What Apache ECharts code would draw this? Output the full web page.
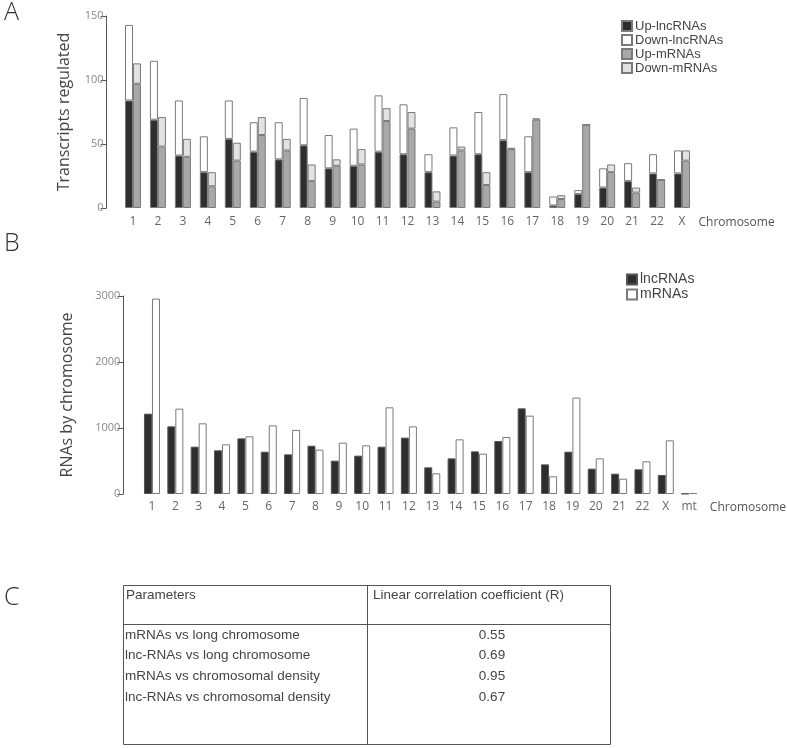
<!DOCTYPE html>
<html><head><meta charset="utf-8">
<script src="https://cdn.jsdelivr.net/npm/echarts@6/dist/echarts.min.js"></script>
<style>html,body{margin:0;padding:0;background:#fff}#c{width:787px;height:748px}</style>
</head><body><div id="c"></div>
<script>
// Panel A data
const chromA = ['1','2','3','4','5','6','7','8','9','10','11','12','13','14','15','16','17','18','19','20','21','22','X'];
const upLnc   = [84,69,41,28,54,44,38,49,31,33,44,42,28,41,42,53,28,2,11,16,21,27,27];
const downLnc = [59,46,43,28,30,23,29,37,26,29,44,39,14,22,33,36,28,7,3,15,14,15,18];
const upM     = [97,48,40,17,37,57,45,21,33,34,68,62,5,45,18,46,69,7,65,28,12,22,37];
const downM   = [16,23,14,11,14,14,9,13,5,12,10,13,8,3,10,1,1,3,0,6,4,0,8];
const ticksA = [0,50,100,150];
// Panel B data
const chromB = ['1','2','3','4','5','6','7','8','9','10','11','12','13','14','15','16','17','18','19','20','21','22','X','mt'];
const lncB = [1217,1025,717,662,843,641,601,732,505,581,717,854,404,540,646,803,1298,449,641,384,308,374,288,6];
const mB   = [2960,1293,1071,753,874,1040,970,672,778,737,1313,1025,313,828,611,864,1187,268,1460,540,232,495,813,15];
const ticksB = [0,1000,2000,3000];
// Panel C table
const tableHeader = ['Parameters','Linear correlation coefficient (R)'];
const tableParams = ['mRNAs vs long chromosome','lnc-RNAs vs long chromosome','mRNAs vs chromosomal density','lnc-RNAs vs chromosomal density'];
const tableR = ['0.55','0.69','0.95','0.67'];

const font = '"Open Sans", "DejaVu Sans", sans-serif';
const arial = '"Liberation Sans", Arial, sans-serif';
const chart = echarts.init(document.getElementById('c'), null, {renderer:'canvas'});

const border = '#7a7a7a';
function yAx(grid, ticks, name, gap, off){
  return {type:'value', gridIndex:grid, min:ticks[0], max:ticks[ticks.length-1], interval:ticks[1]-ticks[0], offset:off,
    name:name, nameLocation:'middle', nameGap:gap,
    nameTextStyle:{fontFamily:font, fontSize:16, color:'#444'},
    axisLine:{show:true, lineStyle:{color:'#555', width:1}},
    axisTick:{show:true, length:6, lineStyle:{color:'#555'}},
    axisLabel:{fontFamily:font, fontSize:11, color:'#888', margin:3, formatter:v=>String(v)},
    splitLine:{show:false}};
}
function xAx(grid, data, margin, gap){
  return {type:'category', gridIndex:grid, data:data,
    name:'Chromosome', nameLocation:'end', nameGap:gap,
    nameTextStyle:{fontFamily:font, fontSize:12, color:'#555', verticalAlign:'top', padding:[margin+1,0,0,0]},
    axisLine:{show:false}, axisTick:{show:false},
    axisLabel:{fontFamily:font, fontSize:12, color:'#666', margin:margin, interval:0}};
}
const tf = '13.5px '+arial;
const graphics = [
  {type:'text', left:4, top:0, style:{text:'A', font:'300 25px '+font, fill:'#333'}},
  {type:'text', left:4, top:231, style:{text:'B', font:'300 25px '+font, fill:'#333'}},
  {type:'text', left:4, top:585, style:{text:'C', font:'300 25px '+font, fill:'#333'}},
  {type:'rect', shape:{x:123.5, y:585.5, width:487, height:159}, style:{fill:'none', stroke:'#555', lineWidth:1}},
  {type:'line', shape:{x1:367.5, y1:585, x2:367.5, y2:745}, style:{stroke:'#555', lineWidth:1}},
  {type:'line', shape:{x1:123, y1:624.5, x2:611, y2:624.5}, style:{stroke:'#555', lineWidth:1}},
  {type:'text', x:126, y:595, style:{text:tableHeader[0], font:tf, fill:'#444', textVerticalAlign:'middle'}},
  {type:'text', x:373, y:595, style:{text:tableHeader[1], font:tf, fill:'#444', textVerticalAlign:'middle'}}
];
tableParams.forEach((p,i)=>{
  graphics.push({type:'text', x:125, y:635+i*20.7, style:{text:p, font:tf, fill:'#444', textVerticalAlign:'middle'}});
  graphics.push({type:'text', x:492, y:635+i*20.7, style:{text:tableR[i], font:tf, fill:'#444', textAlign:'center', textVerticalAlign:'middle'}});
});

chart.setOption({
  animation:false,
  grid:[{left:120.5, top:16, width:574, height:192},
        {left:140.3, top:296, width:562.8, height:198}],
  legend:[
    {data:['Up-lncRNAs','Down-lncRNAs','Up-mRNAs','Down-mRNAs'], orient:'vertical', left:621, top:19, padding:0,
     icon:'rect', itemWidth:10, itemHeight:10, itemGap:0,
     textStyle:{fontFamily:arial, fontSize:13, lineHeight:14, color:'#444', padding:[0,0,0,-2]}},
    {data:['lncRNAs','mRNAs'], orient:'vertical', left:626, top:272, padding:0,
     icon:'rect', itemWidth:10, itemHeight:10, itemGap:0,
     textStyle:{fontFamily:arial, fontSize:14, lineHeight:15, color:'#444', padding:[0,0,0,-2]}}
  ],
  xAxis:[xAx(0, chromA, 8, 4), xAx(1, chromB, 7, 9)],
  yAxis:[yAx(0,ticksA,'Transcripts regulated',34,14), yAx(1,ticksB,'RNAs by chromosome',48,17)],
  series:[
    {name:'Up-lncRNAs', type:'bar', xAxisIndex:0, yAxisIndex:0, stack:'lnc', data:upLnc, barWidth:8, barGap:'0%',
     itemStyle:{color:'#2e2e2e', borderColor:border, borderWidth:1}},
    {name:'Down-lncRNAs', type:'bar', xAxisIndex:0, yAxisIndex:0, stack:'lnc', data:downLnc, barWidth:8, barGap:'0%',
     itemStyle:{color:'#ffffff', borderColor:border, borderWidth:1}},
    {name:'Up-mRNAs', type:'bar', xAxisIndex:0, yAxisIndex:0, stack:'m', data:upM, barWidth:8, barGap:'0%',
     itemStyle:{color:'#a8a8a8', borderColor:border, borderWidth:1}},
    {name:'Down-mRNAs', type:'bar', xAxisIndex:0, yAxisIndex:0, stack:'m', data:downM, barWidth:8, barGap:'0%',
     itemStyle:{color:'#e2e2e2', borderColor:border, borderWidth:1}},
    {name:'lncRNAs', type:'bar', xAxisIndex:1, yAxisIndex:1, data:lncB, barWidth:8, barGap:'0%',
     itemStyle:{color:'#2e2e2e', borderColor:'#555', borderWidth:1}},
    {name:'mRNAs', type:'bar', xAxisIndex:1, yAxisIndex:1, data:mB, barWidth:8, barGap:'0%',
     itemStyle:{color:'#ffffff', borderColor:border, borderWidth:1}}
  ],
  graphic:graphics
});
</script></body></html>
